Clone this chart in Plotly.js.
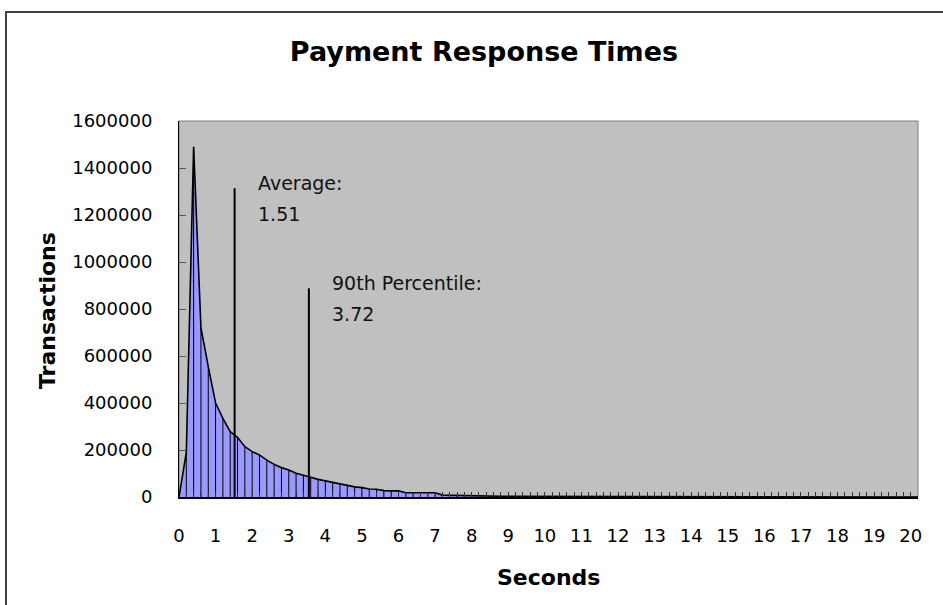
<!DOCTYPE html>
<html>
<head>
<meta charset="utf-8">
<script src="https://cdn.plot.ly/plotly-3.0.1.min.js"></script>
<style>
  html, body { margin: 0; padding: 0; background: #ffffff; }
  #chart { width: 943px; height: 605px; position: absolute; left: 0; top: 0; }
  #frame { position: absolute; left: 5px; top: 11px; width: 960px; height: 620px;
           border-left: 2px solid #404040; border-top: 2px solid #404040;
           pointer-events: none; z-index: 5; }
</style>
</head>
<body>
<div id="chart"></div>
<div id="frame"></div>
<script>
// Response-time categories (seconds)
var seconds = [
  0.0, 0.2, 0.4, 0.6, 0.8, 1.0, 1.2, 1.4, 1.6, 1.8,
  2.0, 2.2, 2.4, 2.6, 2.8, 3.0, 3.2, 3.4, 3.6, 3.8,
  4.0, 4.2, 4.4, 4.6, 4.8, 5.0, 5.2, 5.4, 5.6, 5.8,
  6.0, 6.2, 6.4, 6.6, 6.8, 7.0, 7.2, 7.4, 7.6, 7.8,
  8.0, 8.2, 8.4, 8.6, 8.8, 9.0, 9.2, 9.4, 9.6, 9.8,
  10.0, 10.2, 10.4, 10.6, 10.8, 11.0, 11.2, 11.4, 11.6, 11.8,
  12.0, 12.2, 12.4, 12.6, 12.8, 13.0, 13.2, 13.4, 13.6, 13.8,
  14.0, 14.2, 14.4, 14.6, 14.8, 15.0, 15.2, 15.4, 15.6, 15.8,
  16.0, 16.2, 16.4, 16.6, 16.8, 17.0, 17.2, 17.4, 17.6, 17.8,
  18.0, 18.2, 18.4, 18.6, 18.8, 19.0, 19.2, 19.4, 19.6, 19.8,
  20.0, 20.2
];
// Transactions per bucket
var transactions = [
  0, 190000, 1490000, 720000, 555000, 400000, 335000, 278000, 254000, 214000,
  193000, 179000, 157000, 139000, 125000, 115000, 101000, 94000, 84000, 75000,
  69000, 61000, 54000, 51000, 43000, 40000, 34000, 33000, 27000, 26000,
  26000, 18000, 18000, 18000, 18000, 18000, 8000, 7000, 6000, 6000,
  5000, 5000, 4000, 4000, 3000, 3000, 3000, 2000, 0, 0,
  0, 0, 0, 0, 0, 0, 0, 0, 0, 0,
  0, 0, 0, 0, 0, 0, 0, 0, 0, 0,
  0, 0, 0, 0, 0, 0, 0, 0, 0, 0,
  0, 0, 0, 0, 0, 0, 0, 0, 0, 0,
  0, 0, 0, 0, 0, 0, 0, 0, 0, 0,
  0, 0
];
// Marker lines (position as drawn, top height) and their labels
var statX = [1.52, 3.55];
var statTop = [1314000, 888000];
var statName = ["Average:", "90th Percentile:"];
var statValue = ["1.51", "3.72"];

var xTickVals = [0,1,2,3,4,5,6,7,8,9,10,11,12,13,14,15,16,17,18,19,20];
var yTickVals = [0,200000,400000,600000,800000,1000000,1200000,1400000,1600000];

var M = {l: 179, r: 25, t: 121, b: 108};
var W = 943, H = 605;
var pw = W - M.l - M.r, ph = H - M.t - M.b;
function px2paperX(p) { return (p - M.l) / pw; }
function px2paperY(p) { return (H - M.b - p) / ph; }

// Drop lines from each point to the axis
var dropX = [], dropY = [];
for (var i = 0; i < seconds.length; i++) {
  if (transactions[i] > 0) {
    dropX.push(seconds[i], seconds[i], null);
    dropY.push(0, transactions[i], null);
  }
}

var font = "DejaVu Sans, Verdana, sans-serif";

var traces = [
  {
    x: seconds, y: transactions, type: "scatter", mode: "lines",
    fill: "tozeroy", fillcolor: "#9999ff",
    line: {color: "#000000", width: 1.6},
    hoverinfo: "x+y", showlegend: false
  },
  {
    x: dropX, y: dropY, type: "scatter", mode: "lines",
    line: {color: "#000000", width: 1},
    hoverinfo: "skip", showlegend: false
  },
  {
    x: [statX[0], statX[0], null, statX[1], statX[1]],
    y: [-12000, statTop[0], null, -12000, statTop[1]],
    type: "scatter", mode: "lines", cliponaxis: false,
    line: {color: "#000000", width: 2},
    hoverinfo: "skip", showlegend: false
  }
];

var annotations = [];
for (var k = 0; k < statX.length; k++) {
  annotations.push({
    x: statX[k], y: statTop[k], xref: "x", yref: "y",
    text: statName[k], showarrow: false, xanchor: "left", yanchor: "middle",
    xshift: 21, yshift: 5, font: {family: font, size: 19, color: "#111"}
  });
  annotations.push({
    x: statX[k], y: statTop[k], xref: "x", yref: "y",
    text: statValue[k], showarrow: false, xanchor: "left", yanchor: "middle",
    xshift: 21, yshift: -26, font: {family: font, size: 19, color: "#111"}
  });
}
annotations.push({
  x: px2paperX(47), y: px2paperY(311), xref: "paper", yref: "paper",
  text: "<b>Transactions</b>", textangle: -90, showarrow: false,
  xanchor: "center", yanchor: "middle",
  font: {family: font, size: 22, color: "#000"}
});
annotations.push({
  x: px2paperX(548), y: px2paperY(577), xref: "paper", yref: "paper",
  text: "<b>Seconds</b>", showarrow: false,
  xanchor: "center", yanchor: "middle",
  font: {family: font, size: 22, color: "#000"}
});

var layout = {
  width: W, height: H,
  margin: M,
  paper_bgcolor: "#ffffff",
  plot_bgcolor: "#c0c0c0",
  title: {
    text: "<b>Payment Response Times</b>",
    xref: "container", yref: "container",
    x: 484 / W, y: 1 - 52 / H, xanchor: "center", yanchor: "middle",
    font: {family: font, size: 27, color: "#000"}
  },
  xaxis: {
    range: [0, 20.2], tickvals: xTickVals, ticktext: xTickVals.map(String),
    ticks: "inside", ticklen: 5, tickcolor: "#333", tickwidth: 1,
    minor: {dtick: 0.2, tick0: 0, ticks: "inside", ticklen: 5, tickcolor: "#333", tickwidth: 1, showgrid: false},
    showline: true, linecolor: "#000", linewidth: 2,
    showgrid: false, zeroline: false,
    ticklabelstandoff: 21,
    tickfont: {family: font, size: 18, color: "#000"},
    fixedrange: true
  },
  yaxis: {
    range: [0, 1600000], tickvals: yTickVals, ticktext: yTickVals.map(String),
    ticks: "inside", ticklen: 7, tickcolor: "#555", tickwidth: 1,
    showline: true, linecolor: "#000", linewidth: 1,
    showgrid: false, zeroline: false,
    ticklabelstandoff: 22,
    tickfont: {family: font, size: 18, color: "#000"},
    fixedrange: true
  },
  shapes: [{
    type: "rect", xref: "paper", yref: "paper", x0: 0, x1: 1, y0: 0, y1: 1,
    line: {color: "#808080", width: 1}, layer: "below"
  }],
  annotations: annotations,
  showlegend: false
};

Plotly.newPlot("chart", traces, layout, {displayModeBar: false, staticPlot: true});
</script>
</body>
</html>
